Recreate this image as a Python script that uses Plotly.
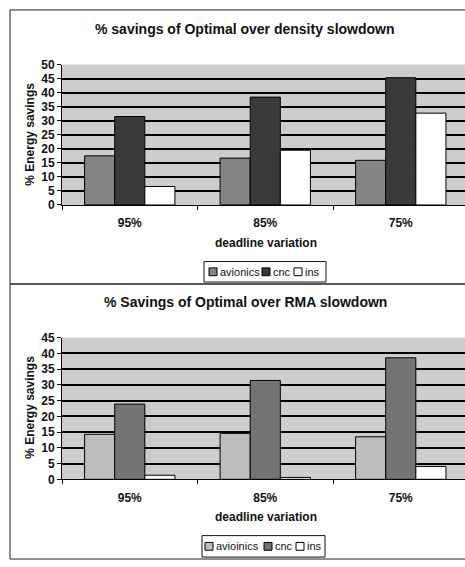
import plotly.graph_objects as go

W, H = 465, 567

categories = ["95%", "85%", "75%"]

top_names = ["avionics", "cnc", "ins"]
top_avionics = [17.5, 16.7, 15.9]
top_cnc = [31.5, 38.4, 45.3]
top_ins = [6.6, 19.5, 32.7]
top_colors = ["#858585", "#3a3a3a", "#ffffff"]

bot_names = ["avioinics", "cnc", "ins"]
bot_avionics = [14.3, 14.6, 13.5]
bot_cnc = [23.9, 31.4, 38.6]
bot_ins = [1.3, 0.6, 4.1]
bot_colors = ["#bdbdbd", "#747474", "#ffffff"]

top_title = "% savings of Optimal over density slowdown"
bot_title = "% Savings of Optimal over RMA slowdown"
y_title = "% Energy savings"
x_title = "deadline variation"

FONT = "Liberation Sans, Arial, sans-serif"


def px(x):
    return x / W


def py(y):
    return 1 - y / H


fig = go.Figure()

for vals, name, col in zip([top_avionics, top_cnc, top_ins], top_names, top_colors):
    fig.add_trace(go.Bar(x=categories, y=vals, name=name, marker=dict(color=col, line=dict(color="#000", width=1)),
                         xaxis="x", yaxis="y", showlegend=False))
for vals, name, col in zip([bot_avionics, bot_cnc, bot_ins], bot_names, bot_colors):
    fig.add_trace(go.Bar(x=categories, y=vals, name=name, marker=dict(color=col, line=dict(color="#000", width=1)),
                         xaxis="x2", yaxis="y2", showlegend=False))

xdom = [px(62), 1.0]
xrange = [-0.5, 2.474]
tickfont = dict(family=FONT, size=12, color="#111", weight="bold")

common_x = dict(type="category", range=xrange, domain=xdom, showline=True, linecolor="#000", linewidth=1,
                ticks="outside", tickson="boundaries", ticklen=4, tickcolor="#000", showgrid=False,
                tickfont=tickfont, ticklabelstandoff=7, fixedrange=True)
common_y = dict(showline=True, linecolor="#000", linewidth=1, ticks="outside", ticklen=4, tickcolor="#000",
                dtick=5, showgrid=True, gridcolor="#000000", gridwidth=1.5, tickfont=tickfont,
                zeroline=False, fixedrange=True)

fig.update_layout(
    width=W, height=H,
    margin=dict(l=0, r=0, t=0, b=0),
    paper_bgcolor="#ffffff",
    plot_bgcolor="#cdcdcd",
    barmode="group", bargap=1 / 3, bargroupgap=0,
    showlegend=False,
    xaxis=dict(**common_x, anchor="y"),
    yaxis=dict(**common_y, range=[0, 50], domain=[py(203), py(59)], anchor="x"),
    xaxis2=dict(**common_x, anchor="y2"),
    yaxis2=dict(**common_y, range=[0, 45], domain=[py(484.3), py(339)], anchor="x2"),
    font=dict(family=FONT, color="#111"),
)

shapes = [
    dict(type="rect", xref="paper", yref="paper", x0=px(10), x1=px(480), y0=py(284), y1=py(3),
         line=dict(color="#222", width=1), layer="below"),
    dict(type="rect", xref="paper", yref="paper", x0=px(10), x1=px(480), y0=py(566), y1=py(284),
         line=dict(color="#222", width=1), layer="below"),
]
annotations = []


def add_panel_text(title, title_y, ylab_y, xtitle_y, legend_box, item_x, names, colors):
    annotations.append(dict(text=f"<b>{title}</b>", x=px(245), y=py(title_y), xref="paper", yref="paper",
                            showarrow=False, font=dict(family=FONT, size=14, color="#111"),
                            xanchor="center", yanchor="middle"))
    annotations.append(dict(text=f"<b>{y_title}</b>", x=px(30), y=py(ylab_y), xref="paper", yref="paper",
                            showarrow=False, textangle=-90, font=dict(family=FONT, size=12, color="#111"),
                            xanchor="center", yanchor="middle"))
    annotations.append(dict(text=f"<b>{x_title}</b>", x=px(266), y=py(xtitle_y), xref="paper", yref="paper",
                            showarrow=False, font=dict(family=FONT, size=12, color="#111"),
                            xanchor="center", yanchor="middle"))
    x0, x1, y0, y1 = legend_box
    shapes.append(dict(type="rect", xref="paper", yref="paper", x0=px(x0), x1=px(x1), y0=py(y1), y1=py(y0),
                       line=dict(color="#111", width=1), fillcolor="#ffffff"))
    cy = (y0 + y1) / 2
    for name, col, sx in zip(names, colors, item_x):
        shapes.append(dict(type="rect", xref="paper", yref="paper", x0=px(sx), x1=px(sx + 8),
                           y0=py(cy + 4), y1=py(cy - 4), line=dict(color="#000", width=1), fillcolor=col))
        annotations.append(dict(text=name, x=px(sx + 9), y=py(cy), xref="paper", yref="paper", showarrow=False,
                                font=dict(family=FONT, size=11, color="#111"), xanchor="left", yanchor="middle"))


add_panel_text(top_title, 23, 131, 242, (204, 326, 261, 282), [209, 262, 294], top_names, top_colors)
add_panel_text(bot_title, 302, 411, 523, (202, 325, 542, 564), [205, 264, 296], bot_names, bot_colors)

fig.update_layout(shapes=shapes, annotations=annotations)

fig.write_html("out.html")
